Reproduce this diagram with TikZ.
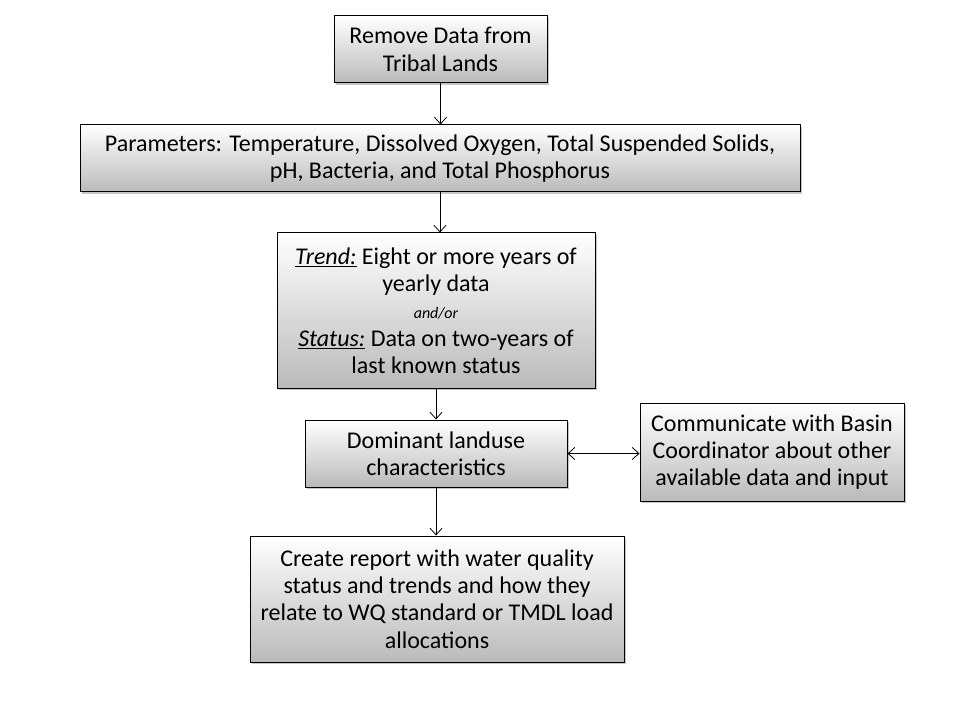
\documentclass[tikz,border=0pt]{standalone}
\usepackage{fontspec}
\setmainfont{Carlito}
\usetikzlibrary{arrows.meta,shadows}
\begin{document}
\begin{tikzpicture}[x=0.75pt,y=-0.75pt,
    caja/.style={rectangle,draw,line width=0.75pt,inner sep=0pt,align=center,
      top color=white,bottom color=black!27,
      drop shadow={shadow xshift=1.5pt,shadow yshift=-1.5pt,opacity=0.45},
      font=\fontsize{18}{20.5}\selectfont},
    flecha/.style={-{Straight Barb[length=5pt,width=9pt]},line width=0.6pt}]
        \useasboundingbox (0,0) rectangle (960,720);
        \node at (440.5,49.5) [caja, minimum width=159.75pt, minimum height=50.25pt] (1) {Remove Data from\\Tribal Lands};
        \node at (440,158.5) [caja, minimum width=540pt, minimum height=50.25pt] (2) {Parameters: Temperature, Dissolved Oxygen, Total Suspended Solids,\\pH, Bacteria, and Total Phosphorus};
        \node at (436,310.5) [caja, minimum width=238.5pt, minimum height=116.25pt] (3) {\underline{\textit{Trend:}} Eight or more years of\\yearly data\\{\fontsize{12}{20.5}\selectfont\textit{and/or}}\\\underline{\textit{Status:}} Data on two-years of\\last known status};
        \node at (436,453.5) [caja, minimum width=196.5pt, minimum height=50.25pt] (4) {Dominant landuse\\characteristics};
        \node at (772,452) [caja, minimum width=198pt, minimum height=73.5pt] (5) {Communicate with Basin\\Coordinator about other\\available data and input};
        \node at (437,599) [caja, minimum width=280.5pt, minimum height=94.5pt] (6) {Create report with water quality\\status and trends and how they\\relate to WQ standard or TMDL load\\allocations};
        \draw[flecha] (1) -- (1 |- 2.north);
        \draw[flecha] (2.south) -- (2.south |- 3.north);
        \draw[flecha] (3) -- (4);
        \draw[flecha] (4.south) -- (4.south |- 6.north);
        \draw[flecha,{Straight Barb[length=5pt,width=9pt]}-{Straight Barb[length=5pt,width=9pt]}] (4.east) -- (4.east -| 5.west);
      \end{tikzpicture}
\end{document}
